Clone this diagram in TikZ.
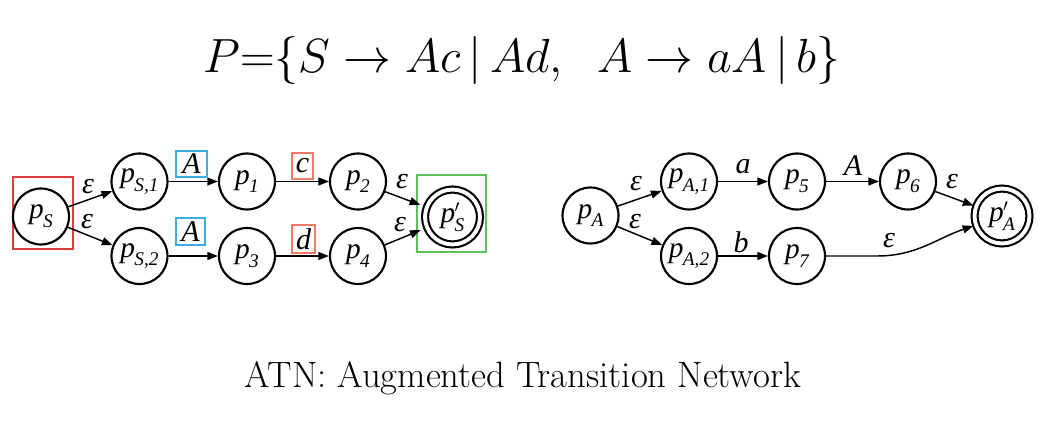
\RequirePackage{fix-cm}
\documentclass[tikz,border=0pt]{standalone}
\usepackage{fontspec}
\newfontfamily\tms{Liberation Serif}
\usetikzlibrary{arrows.meta}
\definecolor{boxred}{HTML}{E03C3C}
\definecolor{boxblue}{HTML}{3AAEE0}
\definecolor{boxsalmon}{HTML}{F07A6A}
\definecolor{boxgreen}{HTML}{5CC05C}
\newcommand\subfnt{\fontsize{14.5}{14.5}\selectfont}
\newcommand\pn[1]{{\tms\itshape\fontsize{22}{22}\selectfont p\kern-0.5pt\raisebox{-6.5pt}{\subfnt #1}}}
\newcommand\pf[1]{{\tms\itshape\fontsize{22}{22}\selectfont p\kern-0.5pt\makebox[0pt][l]{\raisebox{8pt}{\fontsize{13}{13}\selectfont$\prime$}}\raisebox{-6.5pt}{\subfnt #1}}}
\newcommand\lb[1]{{\tms\itshape\fontsize{22.5}{22.5}\selectfont #1}}
\tikzset{
  st/.style={circle,draw,line width=1.6pt,minimum size=42pt,inner sep=0pt},
  fin/.style={circle,draw,line width=1.6pt,double,double distance=2.9pt,minimum size=41.2pt,inner sep=0pt,outer sep=2.2pt},
  arr/.style={line width=1.1pt,-{Triangle[length=8pt,width=6pt]}},
  lbl/.style={inner sep=0pt},
  hl/.style={draw,inner sep=0pt,line width=#1},
}
\begin{document}
\begin{tikzpicture}[x=0.75pt,y=-0.75pt]
\useasboundingbox (0,0) rectangle (1059,424);
% title
\node[anchor=base] (title) at (522,73) {\fontsize{36}{43}\selectfont $P$=$\{S\rightarrow Ac\,|\,Ad,\;\;A\rightarrow aA\,|\,b\}$};
\node[anchor=base] (caption) at (523,387) {\fontsize{27.5}{32}\selectfont ATN: Augmented Transition Network};
% left graph highlight boxes
\node[hl=1.4pt,draw=boxred,minimum width=45pt,minimum height=54pt] (rbox) at (43,213) {};
\node[hl=1.4pt,draw=boxgreen,minimum width=51.75pt,minimum height=57.75pt] (gbox) at (451.5,213.5) {};
% left graph states
\node[st] (pS) at (41,216.5) {\pn{S}};
\node[st] (pS1) at (139.5,181.5) {\pn{S,1}};
\node[st] (pS2) at (139.5,256) {\pn{S,2}};
\node[st] (p1) at (247,181.5) {\pn{1}};
\node[st] (p3) at (247,256) {\pn{3}};
\node[st] (p2) at (358,181.5) {\pn{2}};
\node[st] (p4) at (358,256) {\pn{4}};
\node[fin] (pSf) at (452.5,217) {\pf{S}};
% left edges
\draw[arr] (pS) -- (pS1);
\draw[arr] (pS) -- (pS2);
\draw[arr] (pS1) -- (p1);
\draw[arr] (pS2) -- (p3);
\draw[arr] (p1) -- (p2);
\draw[arr] (p3) -- (p4);
\draw[arr,shorten >=3pt] (p2) -- (pSf);
\draw[arr,shorten >=3pt] (p4) -- (pSf);
\node[lbl] (e1) at (88,187) {\lb{ε}};
\node[lbl] (e2) at (87,222) {\lb{ε}};
\node[lbl] (e3) at (402,182) {\lb{ε}};
\node[lbl] (e4) at (400,225) {\lb{ε}};
\node[hl=1.6pt,draw=boxblue,minimum width=23pt,minimum height=19.5pt] (bA1) at (191.5,164) {\lb{A}};
\node[hl=1.6pt,draw=boxblue,minimum width=22pt,minimum height=20pt] (bA2) at (190.5,231.5) {\lb{A}};
\node[hl=1.3pt,draw=boxsalmon,minimum width=16pt,minimum height=19.5pt] (bc) at (302.5,166) {\lb{c}};
\node[hl=1.3pt,draw=boxsalmon,minimum width=17pt,minimum height=21pt] (bd) at (303.5,239) {\lb{d}};
% right graph
\node[st] (pA) at (590.5,215.5) {\pn{A}};
\node[st] (pA1) at (689,181.5) {\pn{A,1}};
\node[st] (pA2) at (689,256) {\pn{A,2}};
\node[st] (p5) at (797,181.5) {\pn{5}};
\node[st] (p7) at (797,256) {\pn{7}};
\node[st] (p6) at (908,181.5) {\pn{6}};
\node[fin] (pAf) at (1002,216) {\pf{A}};
\coordinate (bend) at (877,256);
\draw[arr] (pA) -- (pA1);
\draw[arr] (pA) -- (pA2);
\draw[arr] (pA1) -- (p5);
\draw[arr] (pA2) -- (p7);
\draw[arr] (p5) -- (p6);
\draw[arr] (p6) -- (pAf);
\draw[arr] (p7) -- (bend) to[out=0,in=199] (pAf);
\node[lbl] (e5) at (636,184) {\lb{ε}};
\node[lbl] (e6) at (635,222) {\lb{ε}};
\node[lbl] (la) at (743,167) {\lb{a}};
\node[lbl] (lA) at (853,166) {\lb{A}};
\node[lbl] (lb) at (741,242) {\lb{b}};
\node[lbl] (e7) at (952,182) {\lb{ε}};
\node[lbl] (e8) at (889,241) {\lb{ε}};
\end{tikzpicture}
\end{document}
